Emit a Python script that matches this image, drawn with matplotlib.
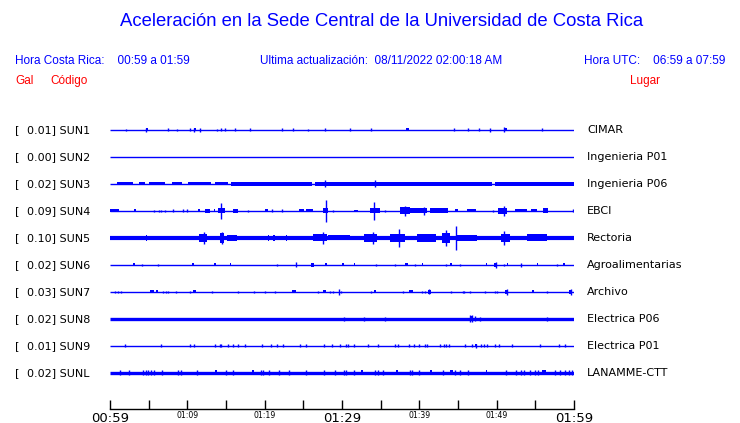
import matplotlib
matplotlib.use("Agg")
import matplotlib.pyplot as plt

# station data
codes = ["SUN1", "SUN2", "SUN3", "SUN4", "SUN5", "SUN6", "SUN7", "SUN8", "SUN9", "SUNL"]
peak_gal = ["0.01", "0.00", "0.02", "0.09", "0.10", "0.02", "0.03", "0.02", "0.01", "0.02"]
places = ["CIMAR", "Ingenieria P01", "Ingenieria P06", "EBCI", "Rectoria",
          "Agroalimentarias", "Archivo", "Electrica P06", "Electrica P01", "LANAMME-CTT"]

# minutes after 00:59, half height (px)
sun1_spikes = [(2.1, 1), (4.7, 2), (7.5, 1.5), (8.7, 1), (10.3, 1.5), (10.9, 2), (11.6, 2),
               (13.8, 1), (14.4, 1.5), (14.9, 1.5), (16.1, 1.5), (18.1, 1.5), (22.3, 1.5),
               (23.6, 1.5), (25.6, 1), (27.8, 1.5), (31.0, 1.5), (33.7, 1.5), (44.5, 1.5),
               (46.3, 1.5), (47.7, 1.5), (49.1, 2), (50.9, 2.5), (55.8, 1.5)]
sun1_bursts = [(4.6, 4.9, 1.5), (10.8, 11.1, 1.5), (38.3, 38.7, 1.5), (50.9, 51.4, 1.5)]

sun2_spikes = []
sun2_bursts = []

sun3_spikes = [(27.8, 3.5), (34.3, 3.5)]
sun3_bursts = [(0.9, 3.0, 1.5), (3.7, 4.5, 1.5), (5.0, 7.1, 1.5), (8.0, 9.3, 1.5),
               (10.1, 13.1, 1.5), (13.6, 15.3, 1.5), (15.7, 26.1, 1.8), (26.5, 49.4, 1.8),
               (49.8, 60.0, 1.8)]

sun4_spikes = [(5.7, 1), (6.4, 1), (6.6, 1), (7.1, 1), (8.2, 1.5), (9.5, 1.5), (9.9, 1.5),
               (14.4, 8), (17.9, 1), (21.0, 1.5), (22.3, 1.5), (27.9, 11), (28.8, 1),
               (34.2, 9), (35.6, 1), (38.2, 5), (40.6, 4), (49.5, 1), (50.9, 5), (59.9, 1.5)]
sun4_bursts = [(0.0, 1.1, 1.5), (3.1, 3.4, 1.5), (11.4, 11.6, 1.5), (12.3, 12.9, 2),
               (13.4, 13.6, 1.5), (14.0, 14.9, 2.5), (15.9, 16.5, 2), (20.0, 20.4, 1.5),
               (24.5, 25.1, 1.5), (25.4, 26.2, 1.5), (27.6, 28.2, 2.5), (31.5, 32.1, 1),
               (33.6, 34.9, 2.5), (37.5, 38.8, 3.5), (38.8, 41.0, 2.5), (41.4, 43.7, 2.5),
               (44.6, 45.0, 1.5), (46.1, 47.3, 1.5), (50.2, 51.3, 3), (52.4, 53.9, 1.5),
               (54.5, 55.2, 1.5), (56.0, 56.7, 2.5)]

sun5_spikes = [(12.2, 6), (14.5, 6), (27.6, 6), (34.0, 6), (37.4, 9), (43.5, 8),
               (44.7, 12), (51.0, 7)]
sun5_bursts = [(4.6, 4.8, 3), (11.5, 12.5, 4), (14.2, 14.7, 5), (15.1, 16.4, 3),
               (20.4, 20.6, 3), (21.1, 21.3, 3), (22.7, 22.9, 3), (26.3, 28.0, 3.5),
               (28.2, 31.0, 2.5), (32.8, 34.5, 4), (36.2, 38.1, 4), (39.7, 42.2, 4),
               (42.9, 44.0, 5), (44.8, 47.4, 3), (50.6, 51.7, 4), (53.9, 56.5, 3.5)]

sun6_spikes = [(4.2, 1), (6.2, 1), (21.6, 1), (24.0, 2.5), (34.4, 1), (36.9, 1), (39.5, 1),
               (43.4, 1), (45.3, 1), (49.85, 3), (50.9, 1), (53.1, 2), (57.8, 1)]
sun6_bursts = [(3.0, 3.2, 1.5), (10.6, 10.8, 1.5), (13.4, 13.7, 1.5), (15.5, 15.7, 1.5),
               (26.0, 26.4, 2), (27.8, 28.0, 1.5), (30.0, 30.3, 1.5), (31.5, 31.7, 1.5),
               (38.2, 38.5, 1.5), (40.3, 40.5, 1.5), (44.0, 44.2, 1.5), (48.6, 48.8, 1.5),
               (49.6, 50.1, 2), (51.3, 51.5, 1.5), (55.2, 55.4, 1.5), (58.6, 58.8, 1.5)]

sun7_spikes = [(0.6, 1), (1.0, 1), (1.4, 1), (6.8, 1), (7.3, 1), (7.5, 1), (8.5, 1), (10.3, 1),
               (13.2, 1), (16.5, 1), (18.6, 1), (20.0, 1), (21.4, 1), (26.9, 1), (28.4, 1),
               (28.8, 1), (29.6, 3), (29.9, 1), (33.8, 1), (37.9, 1), (40.4, 1), (40.7, 1),
               (41.3, 2.5), (44.1, 1), (45.6, 1), (45.8, 1), (46.5, 1), (48.5, 1), (49.8, 1),
               (50.0, 1), (51.3, 3), (56.5, 1), (59.6, 3)]
sun7_bursts = [(5.2, 5.7, 1.5), (6.0, 6.2, 1.5), (10.7, 11.1, 1.5), (23.5, 24.0, 1.5),
               (27.6, 27.9, 1.5), (34.2, 34.4, 1.5), (38.6, 39.2, 1.5), (41.1, 41.5, 2),
               (51.1, 51.5, 2), (54.6, 54.8, 1.5), (59.4, 59.8, 2)]

sun8_spikes = [(30.2, 2), (32.8, 2), (35.5, 2), (46.6, 3.5), (46.8, 3.5), (47.2, 2.5),
               (47.8, 2), (56.5, 2)]
sun8_bursts = [(46.5, 47.0, 2.5)]

sun9_spikes = [(1.9, 1.5), (6.6, 1.5), (10.3, 1.5), (10.9, 1.5), (13.6, 1.5), (14.2, 1.5),
               (14.4, 1.5), (15.2, 1.5), (15.9, 1.5), (16.5, 1.5), (17.5, 1.5), (19.7, 1.5),
               (20.8, 1.5), (21.6, 1.5), (22.4, 1.5), (24.6, 1.5), (25.3, 1.5), (27.7, 1.5),
               (28.7, 1.5), (29.7, 1.5), (30.5, 1.5), (30.8, 1.5), (31.5, 1.5), (33.4, 1.5),
               (34.7, 1.5), (36.9, 1.5), (37.2, 1.5), (38.6, 1.5), (39.3, 1.5), (40.0, 1.5),
               (40.7, 1.5), (41.0, 1.5), (42.7, 1.5), (43.2, 1.5), (43.5, 1.5), (43.9, 1.5),
               (45.9, 1.5), (46.8, 1.5), (47.3, 2), (48.0, 1.5), (48.3, 1.5), (48.7, 1.5),
               (49.8, 1.5), (50.3, 1.5), (52.0, 1.5), (55.6, 1.5), (58.1, 1.5), (58.9, 1.5)]
sun9_bursts = [(17.4, 17.6, 1.2), (47.2, 47.4, 1.5)]

sunl_spikes = [(1.3, 2.5), (2.4, 2.5), (4.3, 2.5), (4.6, 2.5), (4.9, 2.5), (5.3, 2.5),
               (5.7, 2.5), (6.7, 2.5), (8.8, 2.5), (9.2, 2.5), (11.3, 2.5), (15.0, 2.5),
               (15.9, 2.5), (19.5, 2.5), (19.8, 2.5), (20.6, 2.5), (21.8, 2.5), (23.1, 2.5),
               (25.4, 2.5), (27.7, 2.5), (29.1, 2.5), (30.2, 2.5), (30.5, 2.5), (31.5, 2.5),
               (34.3, 2.5), (34.7, 2.5), (35.3, 2.5), (38.8, 2.5), (39.1, 2.5), (39.9, 2.5),
               (43.1, 2.5), (44.6, 2.5), (45.3, 2.5), (46.3, 2.5), (51.2, 2.5), (52.5, 2.5),
               (53.2, 2.5), (53.5, 2.5), (54.3, 2.5), (54.9, 2.5), (55.4, 2.5), (57.5, 2.5),
               (58.2, 2.5), (58.8, 2.5), (59.3, 2.5), (59.7, 2.5)]
sunl_bursts = [(13.6, 13.9, 2.5), (18.4, 18.6, 2.5), (32.4, 32.7, 2.5), (37.0, 37.3, 2.5),
               (41.4, 41.6, 2.5), (44.0, 44.3, 2.5), (48.6, 48.8, 2.5), (55.8, 56.4, 2.5)]

all_spikes = [sun1_spikes, sun2_spikes, sun3_spikes, sun4_spikes, sun5_spikes,
              sun6_spikes, sun7_spikes, sun8_spikes, sun9_spikes, sunl_spikes]
all_bursts = [sun1_bursts, sun2_bursts, sun3_bursts, sun4_bursts, sun5_bursts,
              sun6_bursts, sun7_bursts, sun8_bursts, sun9_bursts, sunl_bursts]

tick_minutes = list(range(0, 61, 5))
label_minutes = [0, 10, 20, 30, 40, 50, 60]
label_texts = ["00:59", "01:09", "01:19", "01:29", "01:39", "01:49", "01:59"]

# base line width (pt) for each trace
base_lw = [1.0, 1.0, 1.0, 1.0, 3.0, 1.0, 1.0, 2.4, 1.0, 2.4]

W, H = 740, 423
BLUE = "#0000ff"
RED = "#ff0000"

fig = plt.figure(figsize=(W / 100, H / 100), dpi=100)
# axes in minutes horizontally (00:59 at 110 px, 01:59 at 574 px), pixels vertically
ax = fig.add_axes([110 / W, 0, 464 / W, 1])
ax.set_xlim(0, 60)
ax.set_ylim(H, 0)


def px(x, y):
    return x / W, 1 - y / H


for i in range(len(codes)):
    y0 = 130 + 27 * i
    ax.plot([0, 60], [y0, y0], color=BLUE, lw=base_lw[i], solid_capstyle="butt")
    for t0, t1, h in all_bursts[i]:
        ax.fill_between([t0, t1], y0 - h, y0 + h, color=BLUE, lw=0)
    if all_spikes[i]:
        ts = [s[0] for s in all_spikes[i]]
        hs = [s[1] for s in all_spikes[i]]
        ax.vlines(ts, [y0 - h for h in hs], [y0 + h for h in hs], color=BLUE, lw=1.0)

    fig.text(*px(15, y0), "[", fontsize=8, va="center", ha="left")
    fig.text(*px(27, y0), peak_gal[i] + "] " + codes[i], fontsize=8, va="center", ha="left")
    fig.text(*px(587, y0), places[i], fontsize=8, va="center", ha="left")

# time axis
for s in ["top", "left", "right"]:
    ax.spines[s].set_visible(False)
ax.spines["bottom"].set_position(("data", 409))
ax.spines["bottom"].set_linewidth(1.0)
ax.set_yticks([])
ax.set_xticks(tick_minutes)
ax.set_xticklabels([])
ax.tick_params(axis="x", direction="in", length=6.5, width=1.0)
for m, lab in zip(label_minutes, label_texts):
    big = m in (0, 30, 60)
    ax.text(m, 421.5 if big else 418.5, lab, fontsize=9.5 if big else 5.6,
            ha="center", va="baseline", clip_on=False)

# header
hf = "Liberation Sans"
fig.text(*px(382, 22), "Aceleración en la Sede Central de la Universidad de Costa Rica",
         family=hf, fontsize=13.3, color=BLUE, ha="center", va="center")
fig.text(*px(15, 61), "Hora Costa Rica:    00:59 a 01:59", family=hf, fontsize=8.5,
         color=BLUE, ha="left", va="center")
fig.text(*px(260, 61), "Ultima actualización:  08/11/2022 02:00:18 AM", family=hf,
         fontsize=8.5, color=BLUE, ha="left", va="center")
fig.text(*px(725, 61), "Hora UTC:    06:59 a 07:59", family=hf, fontsize=8.5,
         color=BLUE, ha="right", va="center")
fig.text(*px(15, 81), "Gal", family=hf, fontsize=8.5, color=RED, ha="left", va="center")
fig.text(*px(50, 81), "Código", family=hf, fontsize=8.5, color=RED, ha="left", va="center")
fig.text(*px(630, 81), "Lugar", family=hf, fontsize=8.5, color=RED, ha="left", va="center")

fig.savefig("out.png", dpi=100)
